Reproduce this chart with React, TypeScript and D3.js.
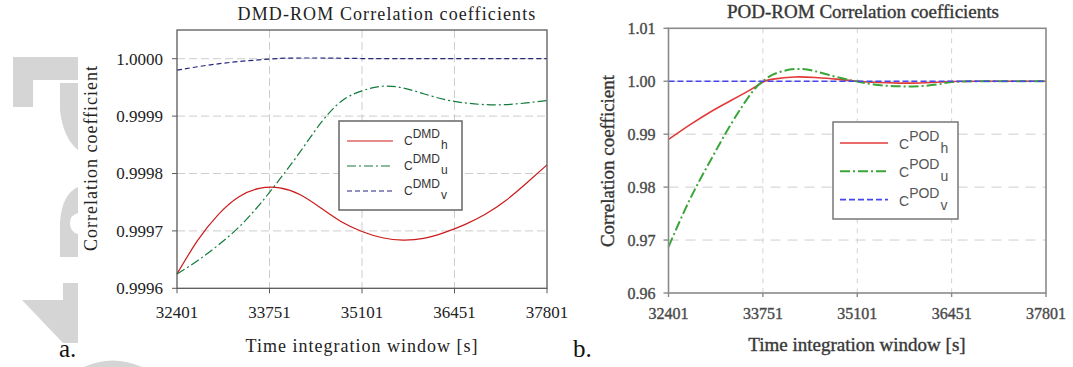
import { useEffect, useRef } from 'react';
import * as d3 from 'd3';

// x ticks shared by both panels (time integration window, s)
const timeTicks = [32401, 33751, 35101, 36451, 37801];

// panel a: DMD-ROM
const dmdTime = [32401, 32700, 33000, 33300, 33600, 33900, 34200, 34500, 34800, 35100, 35400, 35700, 36000, 36300, 36600, 36900, 37200, 37500, 37801];
const dmdH = [0.999625, 0.999683, 0.999728, 0.999759, 0.999774, 0.999775, 0.999763, 0.99974, 0.999716, 0.999699, 0.999688, 0.999684, 0.999687, 0.999697, 0.999711, 0.999729, 0.999753, 0.999783, 0.999815];
const dmdU = [0.999625, 0.999648, 0.999675, 0.999706, 0.999745, 0.99979, 0.999838, 0.999888, 0.999926, 0.999944, 0.999952, 0.999949, 0.999939, 0.999929, 0.999923, 0.99992, 0.99992, 0.999923, 0.999927];
const dmdV = [0.99998, 0.999986, 0.999991, 0.999995, 0.999998, 1.0000005, 1.0000012, 1.0000012, 1.0000008, 1.0000003, 1.0, 1.0, 1.0, 1.0, 1.0, 1.0, 1.0, 1.0, 1.0];
const dmdYTicks = [0.9996, 0.9997, 0.9998, 0.9999, 1.0];

// panel b: POD-ROM
const podTime = [32401, 32700, 33000, 33300, 33600, 33751, 33900, 34200, 34500, 34800, 35101, 35400, 35700, 36000, 36300, 36451, 36900, 37400, 37801];
const podH = [0.989, 0.9917, 0.9942, 0.9964, 0.9986, 0.99985, 1.0004, 1.0008, 1.0007, 1.0004, 1.0, 0.99975, 0.99965, 0.99968, 0.99985, 0.99995, 1.0, 1.0, 1.0];
const podU = [0.9687, 0.9775, 0.985, 0.992, 0.998, 1.0, 1.0013, 1.0023, 1.0019, 1.0008, 0.99995, 0.9993, 0.99905, 0.99908, 0.9995, 0.99985, 1.0, 1.0, 1.0];
const podV = [1.0, 1.0, 1.0, 1.0, 1.0, 1.0, 1.0, 1.0, 1.0, 1.0, 1.0, 1.0, 1.0, 1.0, 1.0, 1.0, 1.0, 1.0, 1.0];
const podYTicks = [0.96, 0.97, 0.98, 0.99, 1.0, 1.01];

const serif = '"Liberation Serif", "DejaVu Serif", serif';
const sans = '"Liberation Sans", Arial, sans-serif';

type Series = { values: number[]; color: string; width: number; dash: string | null; sub: string };

export default function App() {
  const svgRef = useRef<SVGSVGElement>(null);

  useEffect(() => {
    if (!svgRef.current) return;
    const svg = d3.select(svgRef.current);
    svg.selectAll('*').remove();

    // watermark shapes behind panel a
    const wm = svg.append('g').attr('fill', '#d5d5d5');
    wm.append('path').attr('d', 'M13,57 H78 V80 H33 V107 H13 Z');
    wm.append('path').attr('d', 'M60,83 H78 V150 Q63,138 60,110 Z');
    wm.append('path')
      .attr('fill-rule', 'evenodd')
      .attr('d', 'M78,187 Q62,194 60,222 V257 H78 Z M78,213 Q70,215 70,223 Q70,232 78,234 Z');
    wm.append('path').attr('d', 'M63,283 H78 V343 H63 Z M22,300 H63 V343 Z');
    wm.append('path').attr('d', 'M84,367 Q112,354 142,367 Z');

    // ---------- panel a ----------
    const ax = d3.scaleLinear().domain([32401, 37801]).range([177, 547]);
    const ay = d3.scaleLinear().domain([0.9996, 1.00005]).range([288.3, 30]);
    const a = svg.append('g');

    dmdYTicks.slice(1).forEach((t) => {
      a.append('line').attr('x1', ax(32401)).attr('x2', ax(37801)).attr('y1', ay(t)).attr('y2', ay(t))
        .attr('stroke', '#cdcdcd').attr('stroke-dasharray', '8,4');
    });
    timeTicks.slice(1, -1).forEach((t) => {
      a.append('line').attr('x1', ax(t)).attr('x2', ax(t)).attr('y1', ay(1.00005)).attr('y2', ay(0.9996))
        .attr('stroke', '#cdcdcd').attr('stroke-dasharray', '8,4');
    });

    const aSeries: Series[] = [
      { values: dmdH, color: '#cc1a1a', width: 1.2, dash: null, sub: 'h' },
      { values: dmdU, color: '#137a3c', width: 1.2, dash: '9,3,2,3', sub: 'u' },
      { values: dmdV, color: '#25257c', width: 1.2, dash: '5,3', sub: 'v' },
    ];
    aSeries.forEach((s) => {
      const line = d3.line<number>().x((_, i) => ax(dmdTime[i])).y((d) => ay(d)).curve(d3.curveNatural);
      a.append('path').attr('d', line(s.values)).attr('fill', 'none').attr('stroke', s.color)
        .attr('stroke-width', s.width).attr('stroke-dasharray', s.dash);
    });

    // frame + ticks
    a.append('rect').attr('x', ax(32401)).attr('y', ay(1.00005)).attr('width', ax(37801) - ax(32401))
      .attr('height', ay(0.9996) - ay(1.00005)).attr('fill', 'none').attr('stroke', '#5a5a5a').attr('stroke-width', 1.3);
    dmdYTicks.forEach((t) => {
      a.append('line').attr('x1', ax(32401) - 5).attr('x2', ax(32401)).attr('y1', ay(t)).attr('y2', ay(t)).attr('stroke', '#5a5a5a');
      a.append('text').attr('x', ax(32401) - 14).attr('y', ay(t)).attr('dy', '0.35em').attr('text-anchor', 'end')
        .attr('font-family', serif).attr('font-size', 17).attr('fill', '#222').text(t.toFixed(4));
    });
    timeTicks.forEach((t) => {
      a.append('line').attr('x1', ax(t)).attr('x2', ax(t)).attr('y1', ay(0.9996)).attr('y2', ay(0.9996) + 5).attr('stroke', '#5a5a5a');
      a.append('text').attr('x', ax(t)).attr('y', 318).attr('text-anchor', 'middle')
        .attr('font-family', serif).attr('font-size', 17).attr('fill', '#222').text(String(t));
    });

    a.append('text').attr('x', 387).attr('y', 20).attr('text-anchor', 'middle').attr('font-family', serif)
      .attr('font-size', 18).attr('letter-spacing', 1.1).attr('fill', '#222').text('DMD-ROM Correlation coefficients');
    a.append('text').attr('x', 362).attr('y', 352).attr('text-anchor', 'middle').attr('font-family', serif)
      .attr('font-size', 18).attr('letter-spacing', 1).attr('fill', '#222').text('Time integration window [s]');
    a.append('text').attr('transform', 'translate(97,158) rotate(-90)').attr('text-anchor', 'middle').attr('font-family', serif)
      .attr('font-size', 18).attr('letter-spacing', 1).attr('fill', '#222').text('Correlation coefficient');
    a.append('text').attr('x', 59).attr('y', 357).attr('font-family', serif).attr('font-size', 25).attr('fill', '#111').text('a.');

    // legend a
    const la = a.append('g');
    la.append('rect').attr('x', 339).attr('y', 121).attr('width', 123).attr('height', 89)
      .attr('fill', 'white').attr('stroke', '#666').attr('stroke-width', 1.5);
    aSeries.forEach((s, i) => {
      const yy = 141 + i * 25;
      la.append('line').attr('x1', 347).attr('x2', 393).attr('y1', yy).attr('y2', yy).attr('stroke', s.color)
        .attr('stroke-width', s.width).attr('stroke-dasharray', s.dash);
      const tx = la.append('text').attr('x', 404).attr('y', yy + 4).attr('font-family', sans).attr('font-size', 12).attr('fill', '#333');
      tx.append('tspan').text('C');
      tx.append('tspan').attr('dy', -7).text('DMD');
      tx.append('tspan').attr('dy', 11).attr('dx', 1).text(s.sub);
    });

    // ---------- panel b ----------
    const bx = d3.scaleLinear().domain([32401, 37801]).range([668.5, 1046]);
    const by = d3.scaleLinear().domain([0.96, 1.01]).range([293, 28.3]);
    const b = svg.append('g');

    podYTicks.slice(1, -1).forEach((t) => {
      b.append('line').attr('x1', bx(32401)).attr('x2', bx(37801)).attr('y1', by(t)).attr('y2', by(t))
        .attr('stroke', '#cfcfcf').attr('stroke-dasharray', '10,7');
    });
    timeTicks.slice(1, -1).forEach((t) => {
      b.append('line').attr('x1', bx(t)).attr('x2', bx(t)).attr('y1', by(1.01)).attr('y2', by(0.96))
        .attr('stroke', '#d2d2d2').attr('stroke-dasharray', '5,5');
    });

    const bSeries: Series[] = [
      { values: podH, color: '#e23a3a', width: 1.6, dash: null, sub: 'h' },
      { values: podU, color: '#3aa53a', width: 2, dash: '10,3,2,3', sub: 'u' },
      { values: podV, color: '#4646ee', width: 1.6, dash: '6,3', sub: 'v' },
    ];
    bSeries.forEach((s) => {
      const line = d3.line<number>().x((_, i) => bx(podTime[i])).y((d) => by(d)).curve(d3.curveNatural);
      b.append('path').attr('d', line(s.values)).attr('fill', 'none').attr('stroke', s.color)
        .attr('stroke-width', s.width).attr('stroke-dasharray', s.dash);
    });

    b.append('rect').attr('x', bx(32401)).attr('y', by(1.01)).attr('width', bx(37801) - bx(32401))
      .attr('height', by(0.96) - by(1.01)).attr('fill', 'none').attr('stroke', '#8a8a8a').attr('stroke-width', 1.6);
    podYTicks.forEach((t) => {
      b.append('line').attr('x1', bx(32401) - 5).attr('x2', bx(32401)).attr('y1', by(t)).attr('y2', by(t)).attr('stroke', '#8a8a8a').attr('stroke-width', 1.4);
      b.append('text').attr('x', bx(32401) - 13).attr('y', by(t)).attr('dy', '0.35em').attr('text-anchor', 'end')
        .attr('font-family', serif).attr('font-size', 16).attr('fill', '#444').attr('stroke', '#555').attr('stroke-width', 0.4)
        .text(t.toFixed(2));
    });
    timeTicks.forEach((t) => {
      b.append('line').attr('x1', bx(t)).attr('x2', bx(t)).attr('y1', by(0.96)).attr('y2', by(0.96) + 4).attr('stroke', '#8a8a8a').attr('stroke-width', 1.4);
      b.append('text').attr('x', bx(t)).attr('y', 319).attr('text-anchor', 'middle')
        .attr('font-family', serif).attr('font-size', 16).attr('fill', '#444').attr('stroke', '#555').attr('stroke-width', 0.4)
        .text(String(t));
    });

    b.append('text').attr('x', 863).attr('y', 18).attr('text-anchor', 'middle').attr('font-family', serif)
      .attr('font-size', 19).attr('fill', '#333').attr('stroke', '#444').attr('stroke-width', 0.4).text('POD-ROM Correlation coefficients');
    b.append('text').attr('x', 857).attr('y', 351).attr('text-anchor', 'middle').attr('font-family', serif)
      .attr('font-size', 19).attr('fill', '#333').attr('stroke', '#444').attr('stroke-width', 0.4).text('Time integration window [s]');
    b.append('text').attr('transform', 'translate(614,161) rotate(-90)').attr('text-anchor', 'middle').attr('font-family', serif)
      .attr('font-size', 19).attr('fill', '#333').attr('stroke', '#444').attr('stroke-width', 0.4).text('Correlation coefficient');
    b.append('text').attr('x', 573).attr('y', 357).attr('font-family', serif).attr('font-size', 25).attr('fill', '#111').text('b.');

    // legend b
    const lb = b.append('g');
    lb.append('rect').attr('x', 833).attr('y', 122).attr('width', 125).attr('height', 97)
      .attr('fill', 'white').attr('stroke', '#777').attr('stroke-width', 1.5);
    bSeries.forEach((s, i) => {
      const yy = 143 + i * 28.3;
      lb.append('line').attr('x1', 840).attr('x2', 888).attr('y1', yy).attr('y2', yy).attr('stroke', s.color)
        .attr('stroke-width', s.width).attr('stroke-dasharray', s.dash);
      const tx = lb.append('text').attr('x', 899).attr('y', yy + 6).attr('font-family', sans).attr('font-size', 14).attr('fill', '#555');
      tx.append('tspan').text('C');
      tx.append('tspan').attr('dy', -8).text('POD');
      tx.append('tspan').attr('dy', 12).attr('dx', 1).text(s.sub);
    });
  }, []);

  return (
    <svg
      ref={svgRef}
      width={1073}
      height={367}
      style={{ position: 'absolute', left: 0, top: 0, background: 'white' }}
    />
  );
}
